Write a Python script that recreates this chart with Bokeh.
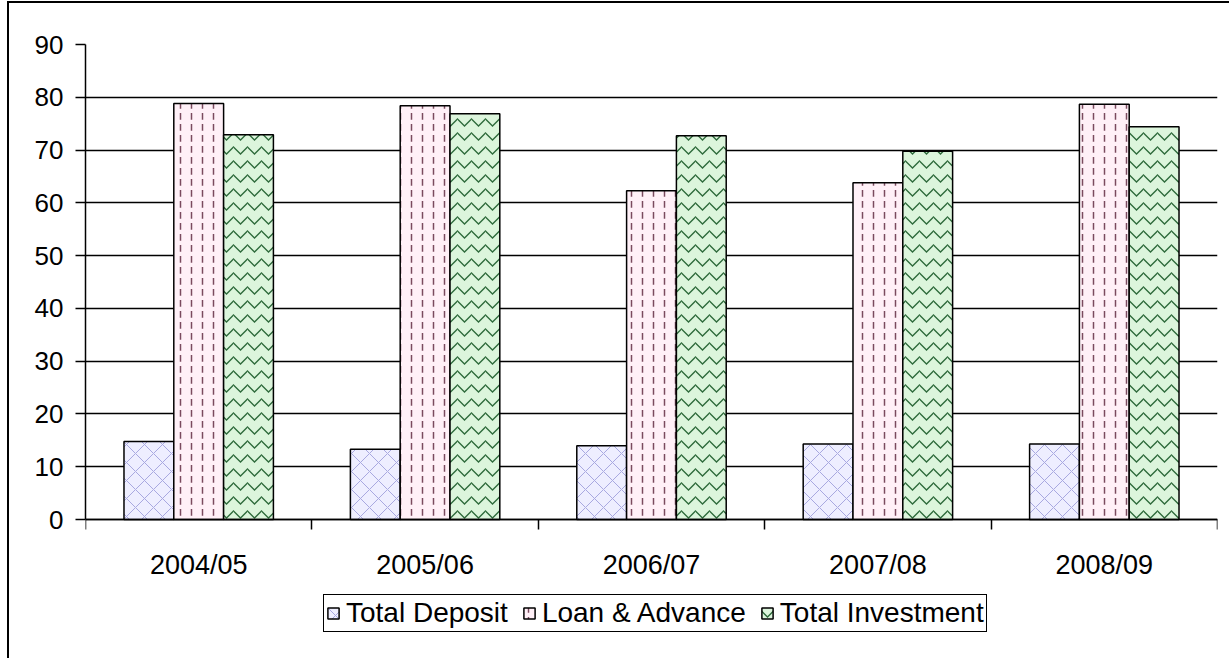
from bokeh.plotting import figure
from bokeh.models import ColumnDataSource, FixedTicker, Legend, LegendItem, Range1d
from bokeh.transform import dodge
from bokeh.embed import file_html
from bokeh.resources import INLINE

categories = ["2004/05", "2005/06", "2006/07", "2007/08", "2008/09"]
total_deposit = [14.8, 13.3, 14.0, 14.3, 14.3]
loan_advance = [78.8, 78.4, 62.3, 63.8, 78.7]
total_investment = [72.9, 76.9, 72.7, 69.8, 74.4]
y_ticks = [0, 10, 20, 30, 40, 50, 60, 70, 80, 90]

centers = [i + 0.5 for i in range(len(categories))]
src = ColumnDataSource(dict(x=centers, cat=categories, dep=total_deposit,
                            loan=loan_advance, inv=total_investment))

FONT = "Liberation Sans"

# the frame extends below zero so that the legend sits inside it;
# the x axis is pinned at y = 0
p = figure(width=1222, height=657, output_backend="svg", toolbar_location=None,
           x_range=Range1d(0, len(categories)), y_range=Range1d(-26.7, 90),
           min_border_left=76, min_border_right=14, min_border_top=41,
           min_border_bottom=0)
p.margin = (1, 0, 0, 7)
p.styles = {"border-left": "2px solid black", "border-top": "2px solid black"}
p.outline_line_color = None
p.background_fill_color = "white"
p.border_fill_color = "white"

bw = 0.22
r_dep = p.vbar(x=dodge("x", -bw, range=p.x_range), top="dep", width=bw, source=src,
               fill_color="#eeeeff", line_color="black", line_width=1.5,
               hatch_pattern="diagonal_cross", hatch_color="#a8a8e0",
               hatch_scale=18, hatch_weight=1)
r_loan = p.vbar(x=dodge("x", 0, range=p.x_range), top="loan", width=bw, source=src,
                fill_color="#fff0f7", line_color="black", line_width=1.5,
                hatch_pattern="vertical_dash", hatch_color="#7a4a5e",
                hatch_scale=11, hatch_weight=1.5)
r_inv = p.vbar(x=dodge("x", bw, range=p.x_range), top="inv", width=bw, source=src,
               fill_color="#dcf5dc", line_color="black", line_width=1.5,
               hatch_pattern="horizontal_wave", hatch_color="#2f6b3c",
               hatch_scale=14, hatch_weight=1.3)

# x axis: labels at centers, ticks at category boundaries
p.xaxis.fixed_location = 0
p.xaxis.ticker = FixedTicker(ticks=centers, minor_ticks=list(range(len(categories) + 1)))
p.xaxis.major_label_overrides = {c: lab for c, lab in zip(centers, categories)}
p.xaxis.major_tick_out = 0
p.xaxis.major_tick_in = 0
p.xaxis.minor_tick_out = 10
p.xaxis.minor_tick_in = 0
p.xaxis.minor_tick_line_color = "black"
p.xaxis.minor_tick_line_width = 1.5
p.xaxis.axis_line_color = "black"
p.xaxis.axis_line_width = 1.5
p.xaxis.major_label_standoff = 20
p.xaxis.major_label_text_font = FONT
p.xaxis.major_label_text_font_size = "27px"
p.xaxis.major_label_text_color = "black"

p.yaxis.ticker = FixedTicker(ticks=y_ticks)
p.yaxis.bounds = (0, 90)
p.yaxis.major_tick_out = 10
p.yaxis.major_tick_in = 0
p.yaxis.minor_tick_line_color = None
p.yaxis.major_tick_line_width = 1.5
p.yaxis.axis_line_width = 1.5
p.yaxis.axis_line_color = "black"
p.yaxis.major_label_standoff = 12
p.yaxis.major_label_text_font = FONT
p.yaxis.major_label_text_font_size = "26px"
p.yaxis.major_label_text_color = "black"

p.xgrid.grid_line_color = None
p.ygrid.ticker = FixedTicker(ticks=y_ticks)
p.ygrid.grid_line_color = "black"
p.ygrid.grid_line_width = 1.5
p.ygrid.level = "underlay"

legend = Legend(items=[LegendItem(label="Total Deposit", renderers=[r_dep]),
                       LegendItem(label="Loan & Advance", renderers=[r_loan]),
                       LegendItem(label="Total Investment", renderers=[r_inv])],
                orientation="horizontal", location=(238, 28),
                label_text_font=FONT, label_text_font_size="28px",
                label_text_color="black",
                glyph_width=14, glyph_height=14, spacing=14, padding=2,
                label_standoff=6, border_line_color="black", border_line_width=1.5,
                border_line_alpha=1,
                margin=0, background_fill_color="white", background_fill_alpha=1)
p.add_layout(legend, "center")

open("out.html", "w").write(file_html(p, INLINE))
